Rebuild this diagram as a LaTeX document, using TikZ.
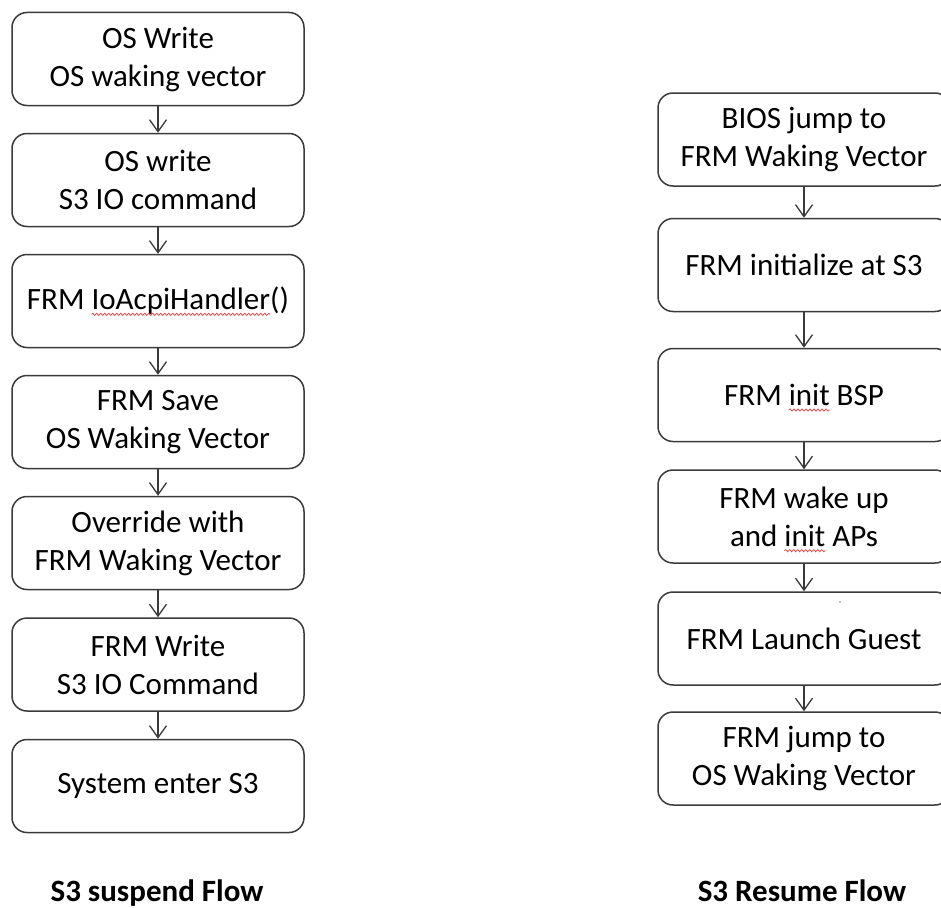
\documentclass[tikz,border=0pt]{standalone}
\usepackage{fontspec}
\setmainfont{Carlito}
\usetikzlibrary{arrows.meta,decorations.pathmorphing}
\definecolor{edge}{HTML}{3A3A3A}
\definecolor{squigred}{HTML}{E03C3C}
\newcommand\squig[1]{\tikz[baseline=(sq.base),x=1pt,y=1pt,sharp corners]{%
  \node[inner sep=0pt,outer sep=0pt,draw=none,minimum width=0pt,minimum height=0pt,
        sharp corners,align=left] (sq) {#1};
  \draw[overlay,squigred,line width=0.7pt,sharp corners,decorate,
        decoration={snake,segment length=4pt,amplitude=1.1pt}]
    ([yshift=-4.5pt]sq.base west) -- ([yshift=-4.5pt]sq.base east);}}
\tikzset{
  box/.style={draw=edge, line width=1.5pt, rounded corners=15pt, minimum width=292pt,
    minimum height=93pt, align=center, font=\fontsize{31}{38}\selectfont, inner sep=0pt},
  flow/.style={draw=edge, line width=1.3pt, -{Straight Barb[length=12pt,width=17pt]}},
  flowtitle/.style={font=\fontsize{31}{38}\selectfont\bfseries, anchor=base}
}
\begin{document}
\begin{tikzpicture}[x=1pt,y=-1pt]
\useasboundingbox (0,0) rectangle (941,907);
\clip (0,0) rectangle (941,907);
\fill[white] (0,0) rectangle (941,907);
% left column
\node[box] (l1) at (158,59)    {OS Write\\OS waking vector};
\node[box] (l2) at (158,180)   {OS write\\S3 IO command};
\node[box] (l3) at (158,301)   {FRM \squig{IoAcpiHandler}()};
\node[box] (l4) at (158,422)   {FRM Save\\OS Waking Vector};
\node[box] (l5) at (158,543)   {Override with\\FRM Waking Vector};
\node[box] (l6) at (158,664.5) {FRM Write\\S3 IO Command};
\node[box] (l7) at (158,786)   {System enter S3};
% right column
\node[box] (r1) at (804,139.5) {BIOS jump to\\FRM Waking Vector};
\node[box] (r2) at (804,265)   {FRM initialize at S3};
\node[box] (r3) at (804,395)   {FRM \squig{init} BSP};
\node[box] (r4) at (804,516.5) {FRM wake up\\and \squig{init} APs};
\node[box] (r5) at (804,638.5) {FRM Launch Guest};
\node[box] (r6) at (804,758.5) {FRM jump to\\OS Waking Vector};
\fill[gray] (840,602) circle (0.8pt);
% arrows
\foreach \a/\b in {l1/l2,l2/l3,l3/l4,l4/l5,l5/l6,l6/l7,r1/r2,r2/r3,r3/r4,r4/r5,r5/r6}
  \draw[flow] (\a.south) -- (\b.north);
% titles
\node[flowtitle] (t1) at (157,901) {S3 suspend Flow};
\node[flowtitle] (t2) at (802,901) {S3 Resume Flow};
\end{tikzpicture}
\end{document}
